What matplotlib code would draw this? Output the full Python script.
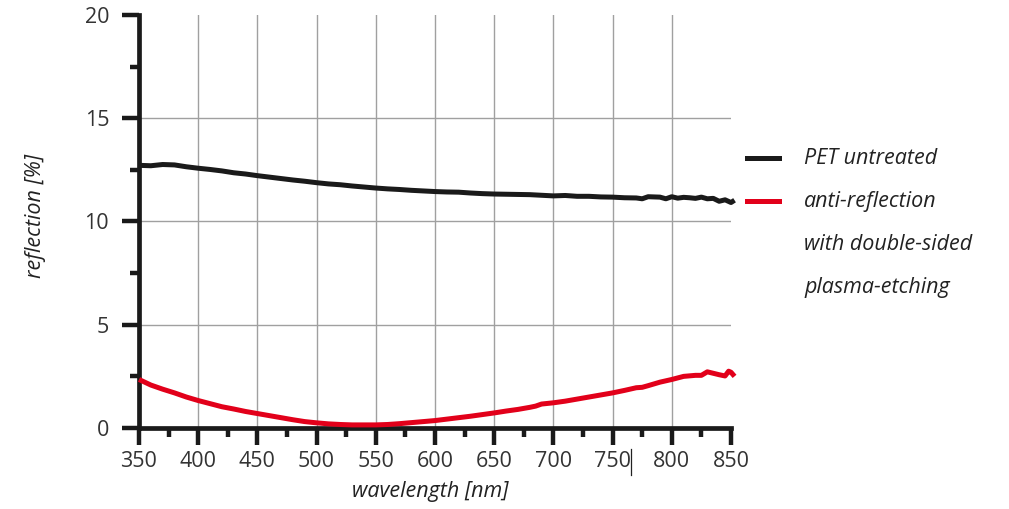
import matplotlib
matplotlib.use("Agg")
import matplotlib.pyplot as plt
from matplotlib.ticker import MultipleLocator
from matplotlib.lines import Line2D

# ---- data ----
wl_black = [350, 360, 370, 380, 390, 400, 410, 420, 430, 440, 450, 460, 470, 480, 490,
            500, 510, 520, 530, 540, 550, 560, 570, 580, 590, 600, 610, 620, 630, 640,
            650, 660, 670, 680, 690, 700, 710, 720, 730, 740, 750, 760, 770, 775, 780,
            790, 795, 800, 805, 810, 815, 820, 825, 830, 835, 840, 845, 850, 853]
pet_untreated = [12.72, 12.70, 12.76, 12.74, 12.65, 12.58, 12.52, 12.45, 12.36, 12.30, 12.22, 12.15, 12.08, 12.01, 11.95,
                 11.88, 11.82, 11.78, 11.72, 11.67, 11.62, 11.58, 11.55, 11.51, 11.48, 11.45, 11.43, 11.42, 11.38, 11.35,
                 11.33, 11.32, 11.31, 11.30, 11.27, 11.24, 11.26, 11.22, 11.22, 11.19, 11.18, 11.15, 11.14, 11.10, 11.20,
                 11.18, 11.10, 11.20, 11.13, 11.17, 11.15, 11.12, 11.18, 11.10, 11.12, 10.98, 11.05, 10.92, 11.03]

wl_red = [350, 360, 370, 380, 390, 400, 410, 420, 430, 440, 450, 460, 470, 480, 490,
          500, 510, 520, 530, 540, 550, 560, 570, 580, 590, 600, 610, 620, 630, 640,
          650, 660, 670, 680, 685, 690, 700, 710, 720, 730, 740, 750, 760, 770, 775,
          780, 790, 800, 810, 820, 825, 830, 835, 840, 845, 848, 850, 853]
anti_reflection = [2.35, 2.08, 1.88, 1.70, 1.50, 1.33, 1.18, 1.03, 0.92, 0.80, 0.70, 0.60, 0.50, 0.40, 0.31,
                   0.25, 0.20, 0.17, 0.15, 0.15, 0.15, 0.17, 0.21, 0.26, 0.31, 0.36, 0.43, 0.50, 0.57, 0.65,
                   0.73, 0.82, 0.90, 1.00, 1.06, 1.16, 1.22, 1.30, 1.40, 1.50, 1.60, 1.70, 1.82, 1.95, 1.97,
                   2.05, 2.22, 2.35, 2.50, 2.55, 2.55, 2.72, 2.65, 2.58, 2.52, 2.75, 2.70, 2.50]

legend_labels = ["PET untreated", "anti-reflection", "with double-sided", "plasma-etching"]
x_ticks = list(range(350, 851, 50))
y_ticks = [0, 5, 10, 15, 20]

# ---- figure ----
W, H = 1009, 509
fig = plt.figure(figsize=(W / 100, H / 100), dpi=100)
ax = fig.add_axes([139 / W, 1 - 428 / H, (731 - 139) / W, (428 - 15) / H])

font = "Open Sans"
txt_color = "#333333"
black = "#1a1a1a"
red = "#e2001a"

ax.set_xlim(350, 850)
ax.set_ylim(0, 20)

ax.plot(wl_black, pet_untreated, color=black, lw=3.6, clip_on=False,
        solid_capstyle="butt", zorder=4)
ax.plot(wl_red, anti_reflection, color=red, lw=3.6, clip_on=False,
        solid_capstyle="butt", zorder=4)

# grid
for x in x_ticks[1:-1]:
    ax.axvline(x, color="#a0a0a0", lw=1.0, zorder=1)
for y in y_ticks[1:-1]:
    ax.axhline(y, color="#a0a0a0", lw=1.0, zorder=1)

for s in ["top", "right"]:
    ax.spines[s].set_visible(False)
for s in ["left", "bottom"]:
    ax.spines[s].set_linewidth(3.4)
    ax.spines[s].set_color(black)

ax.set_xticks(x_ticks)
ax.set_yticks(y_ticks)
ax.xaxis.set_minor_locator(MultipleLocator(25))
ax.yaxis.set_minor_locator(MultipleLocator(2.5))
ax.tick_params(axis="both", which="major", direction="out", length=12.5, width=3.2,
               color=black, labelsize=15.5, labelcolor=txt_color)
ax.tick_params(axis="both", which="minor", direction="out", length=6.5, width=3.2,
               color=black)
ax.tick_params(axis="y", which="major", pad=9)
ax.tick_params(axis="x", which="major", pad=4)
for lab in ax.get_xticklabels() + ax.get_yticklabels():
    lab.set_fontfamily(font)

ax.set_xlabel("wavelength [nm]", fontsize=15.5, style="italic", color="#222222",
              family=font, va="center")
ax.xaxis.set_label_coords((430 - 139) / 592, (428 - 492) / 413)
ax.set_ylabel("reflection [%]", fontsize=15.5, style="italic", color="#222222",
              family=font, va="center")
ax.yaxis.set_label_coords((35 - 139) / 592, (428 - 216) / 413)

# legend (manual)
leg_y = [159, 202, 245, 287]
fig.add_artist(Line2D([747 / W, 779 / W], [1 - 158 / H] * 2, color=black, lw=3.6))
fig.add_artist(Line2D([747 / W, 779 / W], [1 - 201 / H] * 2, color=red, lw=3.6))
for lab, y in zip(legend_labels, leg_y):
    fig.text(804 / W, 1 - y / H, lab, fontsize=15.5, style="italic", color="#222222",
             family=font, va="center", ha="left")

# thin artifact line below axis
ax.plot([765.5, 765.5], [-1.0, -2.3], color="#222222", lw=0.9, clip_on=False)

fig.savefig("out.png", dpi=100)
